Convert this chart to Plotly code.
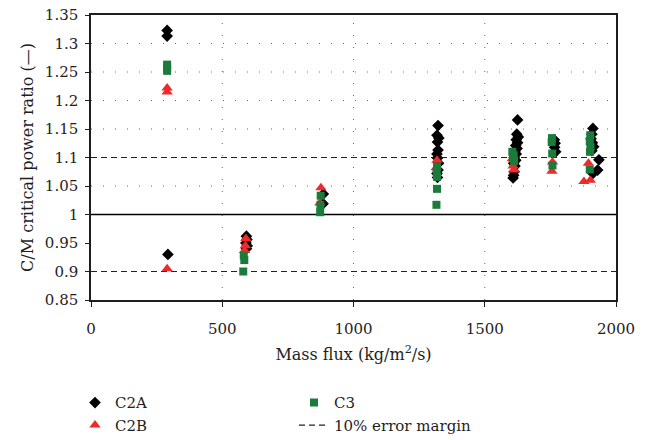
import plotly.graph_objects as go

# Critical power ratio (calculated / measured) against mass flux
c2a_flux = [290, 290, 293, 592, 594, 590, 595, 592, 885, 884,
            1322, 1318, 1325, 1320, 1322, 1318, 1320, 1324, 1322, 1318, 1320,
            1625, 1622, 1628, 1620, 1625, 1618, 1623, 1615, 1620, 1612, 1618,
            1610, 1615, 1612, 1610, 1608,
            1765, 1768, 1766, 1770,
            1912, 1908, 1905, 1910, 1915, 1908, 1935, 1930, 1912]
c2a_ratio = [1.323, 1.313, 0.930, 0.962, 0.956, 0.950, 0.945, 0.940, 1.036, 1.019,
             1.156, 1.139, 1.134, 1.127, 1.113, 1.106, 1.099, 1.090, 1.078, 1.072, 1.065,
             1.166, 1.141, 1.136, 1.131, 1.126, 1.121, 1.116, 1.111, 1.106, 1.100, 1.095,
             1.090, 1.085, 1.075, 1.069, 1.064,
             1.131, 1.125, 1.118, 1.110,
             1.151, 1.141, 1.133, 1.126, 1.119, 1.112, 1.096, 1.078, 1.072]

c2b_flux = [290, 290, 290, 590, 588, 585, 876, 872, 1318, 1315,
            1608, 1612, 1605, 1758, 1756, 1895, 1878, 1902]
c2b_ratio = [1.222, 1.215, 0.905, 0.958, 0.945, 0.937, 1.047, 1.020, 1.095, 1.082,
             1.085, 1.078, 1.098, 1.092, 1.076, 1.090, 1.058, 1.060]

c3_flux = [290, 290, 290, 582, 584, 580, 875, 874, 873,
           1318, 1317, 1318, 1318, 1316,
           1605, 1610, 1608, 1612,
           1756, 1755, 1757, 1758,
           1902, 1900, 1903, 1901, 1900]
c3_ratio = [1.263, 1.258, 1.252, 0.928, 0.920, 0.900, 1.033, 1.017, 1.004,
            1.084, 1.075, 1.066, 1.045, 1.017,
            1.110, 1.104, 1.098, 1.094,
            1.134, 1.127, 1.107, 1.086,
            1.139, 1.128, 1.118, 1.110, 1.079]

x_range = [0, 2000]
y_range = [0.85, 1.35]
y_ticks = [0.85, 0.9, 0.95, 1.0, 1.05, 1.1, 1.15, 1.2, 1.25, 1.3, 1.35]
y_ticktext = ["0.85", "0.9", "0.95", "1", "1.05", "1.1", "1.15", "1.2", "1.25", "1.3", "1.35"]
x_ticks = [0, 500, 1000, 1500, 2000]
grid_y = [1.05, 1.15, 1.2, 1.25, 1.3]
grid_x = [500, 1000, 1500]
margin_levels = [0.9, 1.1]
reference_level = 1.0

FONT = "DejaVu Serif, Liberation Serif, Times New Roman, serif"
INK = "#1e1e1e"
RED = "#ee2a2a"
GREEN = "#1a7b3c"

fig = go.Figure()

# dashed +/-10 % error margin lines
mx, my = [], []
for lv in margin_levels:
    mx += [x_range[0], x_range[1], None]
    my += [lv, lv, None]
fig.add_trace(go.Scatter(x=mx, y=my, mode="lines", name="10% error margin",
                         line=dict(color="#222222", width=1.2, dash="6px,4px"),
                         legendrank=4))

fig.add_trace(go.Scatter(x=c2a_flux, y=c2a_ratio, mode="markers", name="C2A",
                         marker=dict(symbol="diamond", size=9, color="black"),
                         legendrank=1))
fig.add_trace(go.Scatter(x=c2b_flux, y=c2b_ratio, mode="markers", name="C2B",
                         marker=dict(symbol="triangle-up", size=10, color=RED),
                         legendrank=3))
fig.add_trace(go.Scatter(x=c3_flux, y=c3_ratio, mode="markers", name="C3",
                         marker=dict(symbol="square", size=8, color=GREEN),
                         legendrank=2))

shapes = []
dot = dict(color="#666666", width=1, dash="1px,11px")
for gy in grid_y:
    shapes.append(dict(type="line", xref="x", yref="y", x0=x_range[0], x1=x_range[1],
                       y0=gy, y1=gy, line=dot, layer="below"))
for gx in grid_x:
    shapes.append(dict(type="line", xref="x", yref="y", x0=gx, x1=gx,
                       y0=y_range[0], y1=y_range[1], line=dot, layer="below"))
shapes.append(dict(type="line", xref="x", yref="y", x0=x_range[0], x1=x_range[1],
                   y0=reference_level, y1=reference_level,
                   line=dict(color="black", width=1.5), layer="below"))

fig.update_layout(
    width=649, height=440,
    margin=dict(l=91, r=33, t=15, b=140, autoexpand=False),
    paper_bgcolor="white", plot_bgcolor="white",
    font=dict(family=FONT, size=15, color=INK),
    shapes=shapes,
    showlegend=True,
    legend=dict(orientation="h", x=75 / 649, xref="container", xanchor="left",
                y=0.122, yref="container", yanchor="top",
                traceorder="normal", entrywidth=174, font=dict(size=15),
                bgcolor="rgba(0,0,0,0)"),
)
fig.update_xaxes(range=x_range, tickvals=x_ticks, showgrid=False, zeroline=False,
                 showline=True, linecolor=INK, linewidth=1.5, mirror=True,
                 ticks="outside", ticklen=5, tickcolor=INK, ticklabelstandoff=9,
                 title=dict(text="Mass flux (kg/m<sup>2</sup>/s)", standoff=12,
                            font=dict(size=16)),
                 tickfont=dict(size=15))
fig.update_yaxes(range=y_range, tickvals=y_ticks, ticktext=y_ticktext, showgrid=False,
                 zeroline=False, showline=True, linecolor=INK, linewidth=1.5,
                 mirror=True, ticks="outside", ticklen=4, tickcolor=INK,
                 ticklabelstandoff=4,
                 title=dict(text="C/M critical power ratio (—)", standoff=7,
                            font=dict(size=16)),
                 tickfont=dict(size=15))

fig.write_html("out.html")
